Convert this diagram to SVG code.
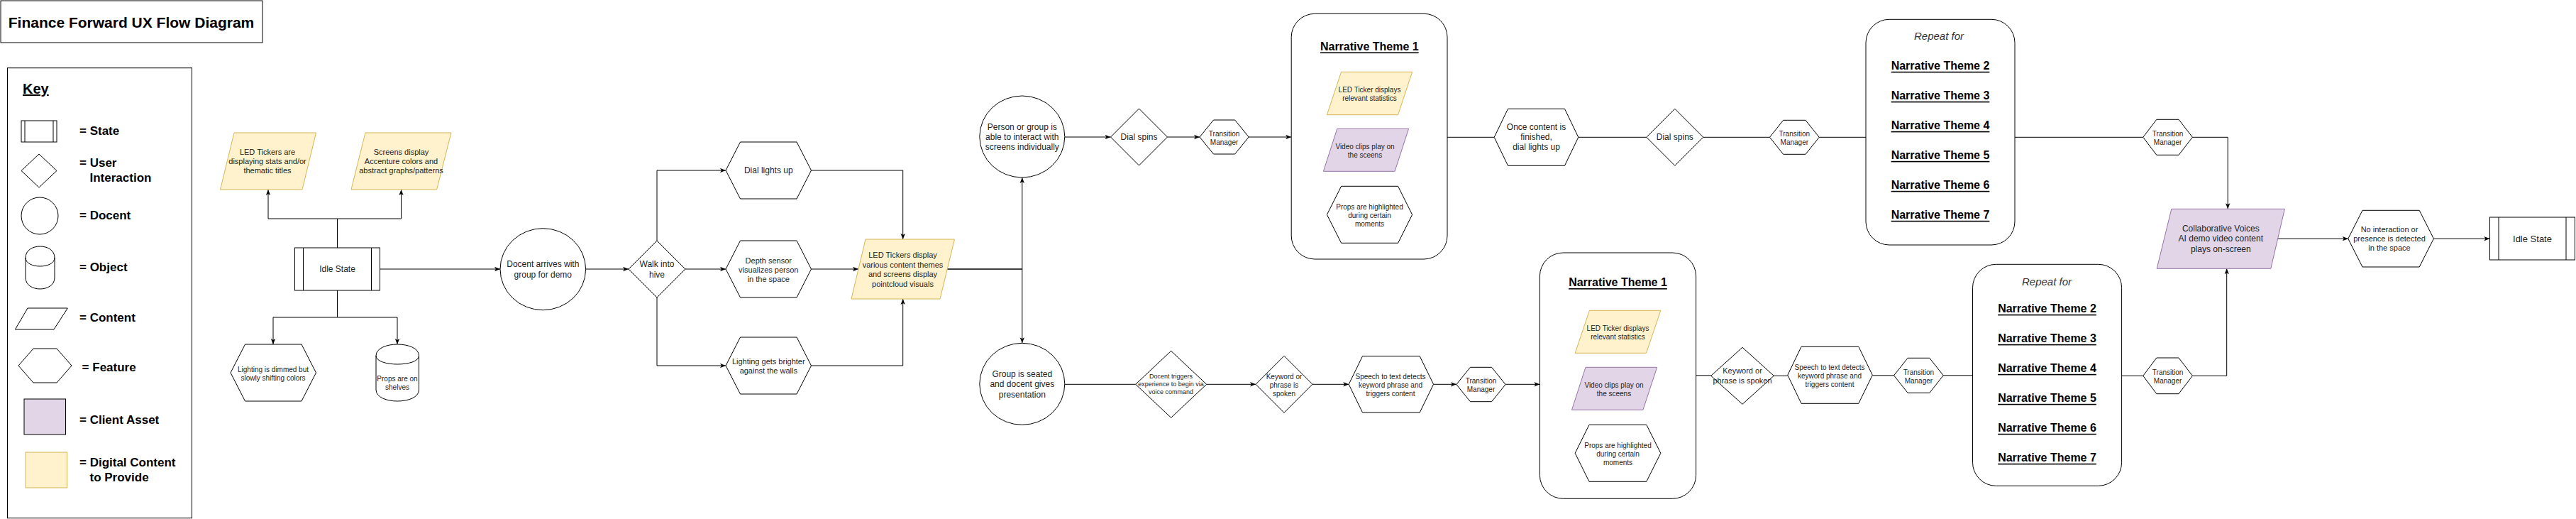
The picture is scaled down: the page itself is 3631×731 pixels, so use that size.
<svg xmlns="http://www.w3.org/2000/svg" width="3631" height="731" viewBox="0 0 3631 731">
<defs>
<style>
.s{fill:#fff;stroke:#000;stroke-width:1}
.n{fill:none;stroke:#000;stroke-width:1}
.y{fill:#fff2cc;stroke:#d6b656;stroke-width:1}
.p{fill:#e1d5e7;stroke:#9673a6;stroke-width:1}
.t,.t tspan{font-family:"Liberation Sans",Arial,sans-serif;fill:#222;text-anchor:middle;dominant-baseline:central}
.b{font-weight:bold;fill:#000}
.u{text-decoration:underline}
.k{font-family:"Liberation Sans",Arial,sans-serif;font-weight:bold;font-size:17px;fill:#000}
.f9{font-size:9px}.f10{font-size:10px}.f11{font-size:11px}.f12{font-size:12px}.f13{font-size:13px}
.h{font-size:16px;font-weight:bold;fill:#000;text-decoration:underline}
.e{fill:none;stroke:#000;stroke-width:1}
.a{marker-end:url(#arr)}
</style>
<marker id="arr" viewBox="0 0 10 10" refX="10" refY="5" markerWidth="8" markerHeight="8" markerUnits="userSpaceOnUse" orient="auto"><path d="M0,1 L10,5 L0,9 L2.5,5 Z" fill="#000"/></marker>
</defs>
<rect x="0" y="0" width="3631" height="731" fill="#fff"/>

<g id="title">
<rect x="1" y="1" width="369" height="59" class="s"/>
<text x="185" y="31" class="t b" font-size="21">Finance Forward UX Flow Diagram</text>
</g>

<g id="key">
<rect x="10.5" y="95.7" width="260" height="634" class="s"/>
<text x="32" y="132" class="k u" font-size="20" style="font-size:20px">Key</text>
<rect x="30" y="170" width="50" height="30" class="s"/>
<path d="M35,170 V200 M75,170 V200" class="n"/>
<text x="112" y="190" class="k">= State</text>
<polygon points="30,240.5 55,217 80,240.5 55,264" class="s"/>
<text x="112" y="235" class="k">= User</text>
<text x="126.5" y="256" class="k">Interaction</text>
<ellipse cx="56" cy="304" rx="26" ry="26" class="s"/>
<text x="112" y="309.3" class="k">= Docent</text>
<path d="M36,363 C36,341.67 77,341.67 77,363 L77,391 C77,412.33 36,412.33 36,391 Z" class="s"/>
<path d="M36,363 C36,379 77,379 77,363" class="n"/>
<text x="112" y="381.7" class="k">= Object</text>
<polygon points="39,434 95.3,434 76,464 21.4,464" class="s"/>
<text x="112" y="453.3" class="k">= Content</text>
<polygon points="26,515 47,491 80,491 101,515 80,539 47,539" class="s"/>
<text x="115.6" y="522.7" class="k">= Feature</text>
<rect x="34" y="562" width="58.5" height="50" fill="#e1d5e7" stroke="#000" stroke-width="1"/>
<text x="112" y="596.7" class="k">= Client Asset</text>
<rect x="36" y="637" width="58.5" height="50" class="y"/>
<text x="112" y="657.3" class="k">= Digital Content</text>
<text x="126.5" y="678.3" class="k">to Provide</text>
</g>

<g id="connectors">
<path d="M475.5,349 V308 H378 V267" class="e a"/>
<path d="M475.5,349 V308 H565.5 V267" class="e a"/>
<path d="M475.5,409 V447 H385 V485" class="e a"/>
<path d="M475.5,409 V447 H560 V485" class="e a"/>
<path d="M535.7,379 H705" class="e a"/>
<path d="M825.6,379 H886" class="e a"/>
<path d="M926,339 V240 H1023" class="e a"/>
<path d="M966,379 H1023" class="e a"/>
<path d="M926,419 V515 H1023" class="e a"/>
<path d="M1143.5,240 H1272.7 V337" class="e a"/>
<path d="M1143.5,379 H1210" class="e a"/>
<path d="M1143.5,515 H1272.7 V421" class="e a"/>
<path d="M1335,379 H1440.8 V250" class="e a"/>
<path d="M1335,379 H1440.8 V483.3" class="e a"/>
<path d="M1500.8,193 H1565.5" class="e a"/>
<path d="M1645.5,193 H1691" class="e a"/>
<path d="M1760.2,193 H1820.2" class="e a"/>
<path d="M2040,193.3 H2106.2" class="e"/>
<path d="M2224.8,193.3 H2320.8" class="e"/>
<path d="M2400.8,193.3 H2494.5" class="e"/>
<path d="M2564.2,193.3 H2630" class="e"/>
<path d="M2840,193.3 H3020.8" class="e"/>
<path d="M3090.4,193.3 H3140.2 V294.3" class="e a"/>
<path d="M3210.6,336.2 H3309.8" class="e a"/>
<path d="M3430.4,336.2 H3509.4" class="e a"/>
<path d="M1500.8,541.3 H1600.7" class="e"/>
<path d="M1700.7,541.3 H1770" class="e a"/>
<path d="M1850,541.3 H1901.2" class="e a"/>
<path d="M2020.6,541.3 H2052.9" class="e a"/>
<path d="M2122.1,541.3 H2170.4" class="e a"/>
<path d="M2390.6,528.8 H2411.7" class="e"/>
<path d="M2500.3,529.3 H2519.8" class="e"/>
<path d="M2639.3,528.8 H2669.6" class="e"/>
<path d="M2739.2,528.8 H2780.5" class="e"/>
<path d="M2990.6,529.3 H3020.8" class="e"/>
<path d="M3090.4,529.3 H3138.7 V378.3" class="e a"/>
</g>

<g id="led-tickers-idle">
<polygon points="330,187 445.5,187 426,267 310.5,267" class="y"/>
<text class="t f11"><tspan x="377" y="214">LED Tickers are</tspan><tspan x="377" y="227">displaying stats and/or</tspan><tspan x="377" y="240">thematic titles</tspan></text>
</g>
<g id="screens-display">
<polygon points="515,187 636,187 615.6,267 495,267" class="y"/>
<text class="t f11"><tspan x="565.5" y="214">Screens display</tspan><tspan x="565.5" y="227">Accenture colors and</tspan><tspan x="565.5" y="240">abstract graphs/patterns</tspan></text>
</g>
<g id="idle-state">
<rect x="415.5" y="349" width="120" height="60" class="s"/>
<path d="M427.5,349 V409 M523.5,349 V409" class="n"/>
<text x="475.5" y="379" class="t f12">Idle State</text>
</g>
<g id="lighting-dimmed">
<polygon points="325,525 345.5,485 425,485 445.5,525 425,565 345.5,565" class="s"/>
<text class="t f10"><tspan x="385" y="520">Lighting is dimmed but</tspan><tspan x="385" y="532">slowly shifting colors</tspan></text>
</g>
<g id="props-shelves">
<path d="M530,501 C530,479.67 590.5,479.67 590.5,501 L590.5,549 C590.5,570.33 530,570.33 530,549 Z" class="s"/>
<path d="M530,501 C530,517 590.5,517 590.5,501" class="n"/>
<text class="t f10"><tspan x="560" y="532.7">Props are on</tspan><tspan x="560" y="545">shelves</tspan></text>
</g>
<g id="docent-arrives">
<ellipse cx="765.3" cy="379.2" rx="60.3" ry="57.5" class="s"/>
<text class="t f12"><tspan x="765.3" y="372">Docent arrives with</tspan><tspan x="765.3" y="386.7">group for demo</tspan></text>
</g>
<g id="walk-into-hive">
<polygon points="886,379 926,339 966,379 926,419" class="s"/>
<text class="t f12"><tspan x="926" y="371.7">Walk into</tspan><tspan x="926" y="386.7">hive</tspan></text>
</g>
<g id="dial-lights-up">
<polygon points="1023,240 1043.5,200 1123,200 1143.5,240 1123,280 1043.5,280" class="s"/>
<text x="1083.3" y="240" class="t f12">Dial lights up</text>
</g>
<g id="depth-sensor">
<polygon points="1023,379 1043.5,339 1123,339 1143.5,379 1123,419 1043.5,419" class="s"/>
<text class="t f11"><tspan x="1083.3" y="366.5">Depth sensor</tspan><tspan x="1083.3" y="379.5">visualizes person</tspan><tspan x="1083.3" y="392.5">in the space</tspan></text>
</g>
<g id="lighting-brighter">
<polygon points="1023,515 1043.5,475 1123,475 1143.5,515 1123,555 1043.5,555" class="s"/>
<text class="t f11"><tspan x="1083.3" y="508.5">Lighting gets brighter</tspan><tspan x="1083.3" y="522.3">against the walls</tspan></text>
</g>
<g id="led-tickers-display">
<polygon points="1220,337 1345.5,337 1325,421 1200,421" class="y"/>
<text class="t f11"><tspan x="1272.5" y="359">LED Tickers display</tspan><tspan x="1272.5" y="372.5">various content themes</tspan><tspan x="1272.5" y="386">and screens display</tspan><tspan x="1272.5" y="399.5">pointcloud visuals</tspan></text>
</g>
<g id="person-group">
<ellipse cx="1440.8" cy="192.5" rx="60" ry="57.5" class="s"/>
<text class="t f12"><tspan x="1440.8" y="179">Person or group is</tspan><tspan x="1440.8" y="192.7">able to interact with</tspan><tspan x="1440.8" y="207.3">screens individually</tspan></text>
</g>
<g id="group-seated">
<ellipse cx="1440.8" cy="540.8" rx="60" ry="57.5" class="s"/>
<text class="t f12"><tspan x="1440.8" y="526.7">Group is seated</tspan><tspan x="1440.8" y="540.7">and docent gives</tspan><tspan x="1440.8" y="555.7">presentation</tspan></text>
</g>
<g id="dial-spins-1">
<polygon points="1565.5,193 1605.5,153 1645.5,193 1605.5,233" class="s"/>
<text x="1605.5" y="193" class="t f12">Dial spins</text>
</g>
<g id="transition-manager-1">
<polygon points="1691,193 1710.5,169 1740.7,169 1760.2,193 1740.7,217 1710.5,217" class="s"/>
<text class="t f10"><tspan x="1725.6" y="187.7">Transition</tspan><tspan x="1725.6" y="200">Manager</tspan></text>
</g>
<g id="narrative-theme-1-top">
<rect x="1820.2" y="19.3" width="219.8" height="345.7" rx="33" ry="33" class="s"/>
<text x="1930.3" y="65" class="t h">Narrative Theme 1</text>
<polygon points="1890.6,101.3 1990.6,101.3 1970.6,161.7 1870.4,161.7" class="y"/>
<text class="t f10"><tspan x="1930.5" y="125.7">LED Ticker displays</tspan><tspan x="1930.5" y="137.7">relevant statistics</tspan></text>
<polygon points="1884.8,181.3 1985.6,181.3 1966,241.3 1865.4,241.3" class="p"/>
<text class="t f10"><tspan x="1924" y="205.7">Video clips play on</tspan><tspan x="1924" y="217.7">the sceens</tspan></text>
<polygon points="1870.4,302.3 1890.6,262.3 1970.6,262.3 1990.6,302.3 1970.6,342.3 1890.6,342.3" class="s"/>
<text class="t f10"><tspan x="1930.5" y="290.7">Props are highlighted</tspan><tspan x="1930.5" y="302.7">during certain</tspan><tspan x="1930.5" y="314.7">moments</tspan></text>
</g>
<g id="once-content-finished">
<polygon points="2106.2,193.3 2125.5,153.3 2205.5,153.3 2224.8,193.3 2205.5,233.3 2125.5,233.3" class="s"/>
<text class="t f12"><tspan x="2165.5" y="179">Once content is</tspan><tspan x="2165.5" y="193">finished,</tspan><tspan x="2165.5" y="207.3">dial lights up</tspan></text>
</g>
<g id="dial-spins-2">
<polygon points="2320.8,193.3 2360.8,153.3 2400.8,193.3 2360.8,233.3" class="s"/>
<text x="2360.8" y="193.3" class="t f12">Dial spins</text>
</g>
<g id="transition-manager-2">
<polygon points="2494.5,193.3 2513.6,169.3 2545,169.3 2564.2,193.3 2545,217.3 2513.6,217.3" class="s"/>
<text class="t f10"><tspan x="2529.3" y="187.7">Transition</tspan><tspan x="2529.3" y="200">Manager</tspan></text>
</g>
<g id="repeat-top">
<rect x="2630" y="27.3" width="210" height="317.7" rx="33" ry="33" class="s"/>
<text x="2733" y="50.7" class="t" font-size="15" font-style="italic" style="fill:#333">Repeat for</text>
<text x="2735" y="92.3" class="t h">Narrative Theme 2</text>
<text x="2735" y="134.3" class="t h">Narrative Theme 3</text>
<text x="2735" y="176.3" class="t h">Narrative Theme 4</text>
<text x="2735" y="218.3" class="t h">Narrative Theme 5</text>
<text x="2735" y="260.3" class="t h">Narrative Theme 6</text>
<text x="2735" y="302.3" class="t h">Narrative Theme 7</text>
</g>
<g id="transition-manager-3">
<polygon points="3020.8,193.3 3039.8,168.3 3071,168.3 3090.4,193.3 3071,218.3 3039.8,218.3" class="s"/>
<text class="t f10"><tspan x="3055.6" y="187.7">Transition</tspan><tspan x="3055.6" y="200">Manager</tspan></text>
</g>
<g id="collaborative-voices">
<polygon points="3060.8,294.3 3220.4,294.3 3200.8,378.3 3040.2,378.3" class="p"/>
<text class="t f12"><tspan x="3130.3" y="321.7">Collaborative Voices</tspan><tspan x="3130.3" y="335.7">AI demo video content</tspan><tspan x="3130.3" y="350.7">plays on-screen</tspan></text>
</g>
<g id="no-interaction">
<polygon points="3309.8,336.2 3330,296.3 3410.2,296.3 3430.4,336.2 3410.2,376 3330,376" class="s"/>
<text class="t f11"><tspan x="3368" y="323.3">No interaction or</tspan><tspan x="3368" y="336">presence is detected</tspan><tspan x="3368" y="349.3">in the space</tspan></text>
</g>
<g id="idle-state-end">
<rect x="3509.5" y="306" width="120" height="60" class="s"/>
<path d="M3522,306 V366 M3617,306 V366" class="n"/>
<text x="3569.5" y="336" class="t f13">Idle State</text>
</g>
<g id="docent-triggers">
<polygon points="1600.7,541.3 1650.7,494.3 1700.7,541.3 1650.7,588.3" class="s"/>
<text class="t f9"><tspan x="1650.5" y="529.7">Docent triggers</tspan><tspan x="1650.5" y="541">experience to begin via</tspan><tspan x="1650.5" y="552.3">voice command</tspan></text>
</g>
<g id="keyword-1">
<polygon points="1770,541.3 1810,501.3 1850,541.3 1810,581.3" class="s"/>
<text class="t f10"><tspan x="1810" y="529.7">Keyword or</tspan><tspan x="1810" y="541.7">phrase is</tspan><tspan x="1810" y="553.7">spoken</tspan></text>
</g>
<g id="speech-to-text-1">
<polygon points="1901.2,541.3 1920.5,501.7 2001.2,501.7 2020.6,541.3 2001.2,581 1920.5,581" class="s"/>
<text class="t f10"><tspan x="1960" y="529.7">Speech to text detects</tspan><tspan x="1960" y="541.7">keyword phrase and</tspan><tspan x="1960" y="553.7">triggers content</tspan></text>
</g>
<g id="transition-manager-5">
<polygon points="2052.9,541.5 2072.4,517.3 2102.6,517.3 2122.1,541.5 2102.6,565.7 2072.4,565.7" class="s"/>
<text class="t f10"><tspan x="2087.5" y="535.7">Transition</tspan><tspan x="2087.5" y="547.7">Manager</tspan></text>
</g>
<g id="narrative-theme-1-bottom">
<rect x="2170.4" y="356" width="220.2" height="346.3" rx="33" ry="33" class="s"/>
<text x="2280.5" y="397.5" class="t h">Narrative Theme 1</text>
<polygon points="2240.4,437.3 2340.8,437.3 2320.5,497.3 2220.2,497.3" class="y"/>
<text class="t f10"><tspan x="2280.5" y="461.7">LED Ticker displays</tspan><tspan x="2280.5" y="473.7">relevant statistics</tspan></text>
<polygon points="2235,517.3 2335.7,517.3 2315.9,577.3 2215.5,577.3" class="p"/>
<text class="t f10"><tspan x="2275" y="541.7">Video clips play on</tspan><tspan x="2275" y="553.7">the sceens</tspan></text>
<polygon points="2220.2,638.3 2240,598.3 2320.8,598.3 2340.8,638.3 2320.8,678.3 2240,678.3" class="s"/>
<text class="t f10"><tspan x="2280.5" y="626.7">Props are highlighted</tspan><tspan x="2280.5" y="638.7">during certain</tspan><tspan x="2280.5" y="650.7">moments</tspan></text>
</g>
<g id="keyword-2">
<polygon points="2411.7,529.3 2456,489.3 2500.3,529.3 2456,569.3" class="s"/>
<text class="t f11"><tspan x="2456" y="522.3">Keyword or</tspan><tspan x="2456" y="536.3">phrase is spoken</tspan></text>
</g>
<g id="speech-to-text-2">
<polygon points="2519.8,528.3 2539,488.3 2619.8,488.3 2639.3,528.3 2619.8,568.3 2539,568.3" class="s"/>
<text class="t f10"><tspan x="2579" y="516.7">Speech to text detects</tspan><tspan x="2579" y="528.7">keyword phrase and</tspan><tspan x="2579" y="540.7">triggers content</tspan></text>
</g>
<g id="transition-manager-6">
<polygon points="2669.6,528.8 2689,504.3 2719.8,504.3 2739.2,528.8 2719.8,553.3 2689,553.3" class="s"/>
<text class="t f10"><tspan x="2704.4" y="523.7">Transition</tspan><tspan x="2704.4" y="535.7">Manager</tspan></text>
</g>
<g id="repeat-bottom">
<rect x="2780.5" y="372.3" width="210.1" height="312" rx="33" ry="33" class="s"/>
<text x="2885" y="396" class="t" font-size="15" font-style="italic" style="fill:#333">Repeat for</text>
<text x="2885.5" y="434.3" class="t h">Narrative Theme 2</text>
<text x="2885.5" y="476.3" class="t h">Narrative Theme 3</text>
<text x="2885.5" y="518.3" class="t h">Narrative Theme 4</text>
<text x="2885.5" y="560.3" class="t h">Narrative Theme 5</text>
<text x="2885.5" y="602.3" class="t h">Narrative Theme 6</text>
<text x="2885.5" y="644.3" class="t h">Narrative Theme 7</text>
</g>
<g id="transition-manager-4">
<polygon points="3020.8,529.3 3039.8,504 3071,504 3090.4,529.3 3071,554.7 3039.8,554.7" class="s"/>
<text class="t f10"><tspan x="3055.6" y="523.7">Transition</tspan><tspan x="3055.6" y="535.7">Manager</tspan></text>
</g>
</svg>
